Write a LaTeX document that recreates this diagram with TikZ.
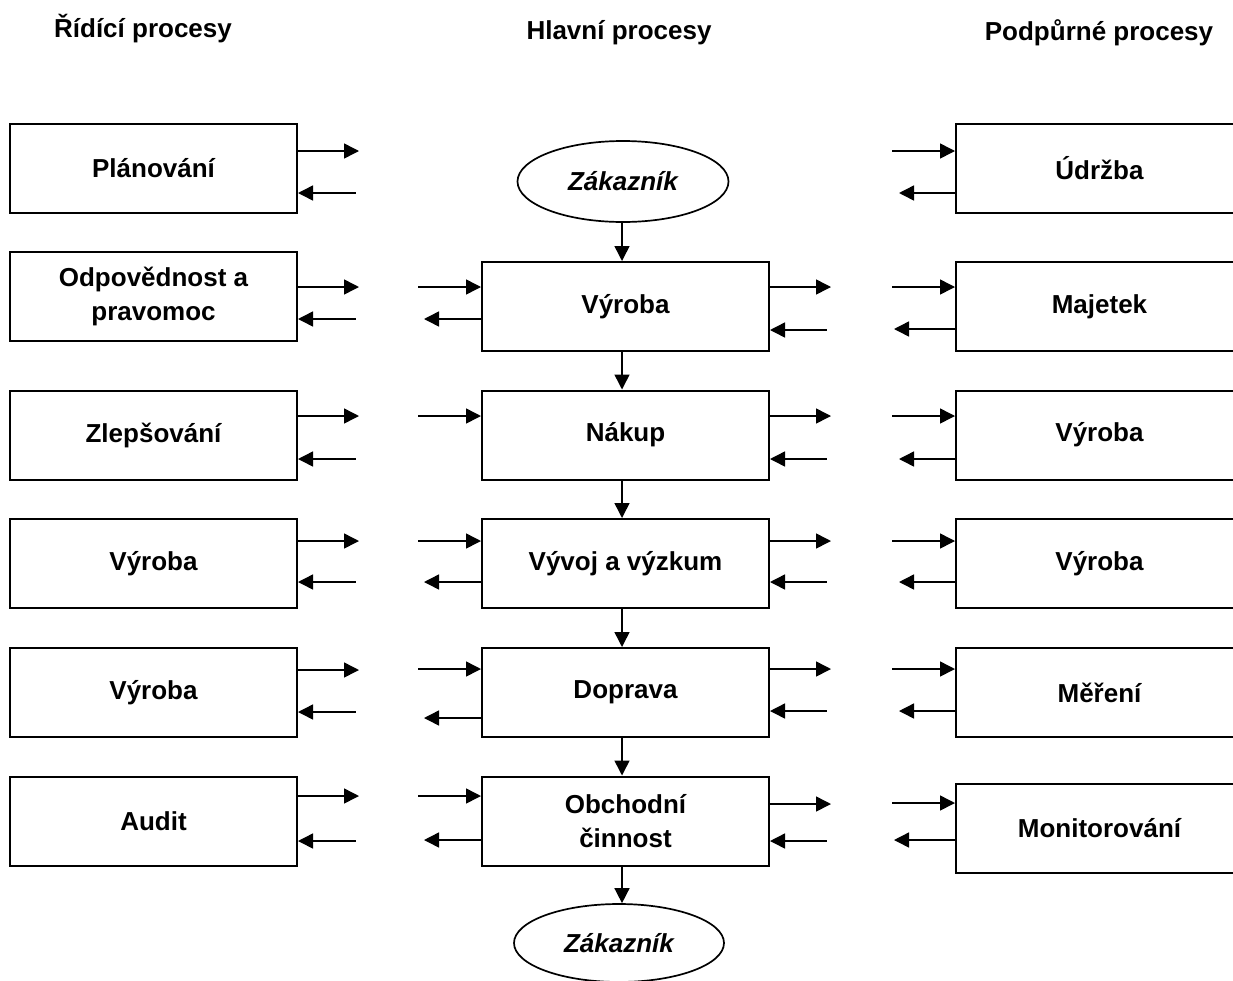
\documentclass[tikz,border=0pt]{standalone}
\usepackage{fontspec}
\setmainfont{Liberation Sans}
\usetikzlibrary{arrows.meta,shapes.geometric}

\begin{document}
\begin{tikzpicture}[x=1pt,y=-1pt,
  txt/.style={font=\fontsize{26}{34}\selectfont\bfseries},
  procbox/.style={draw, line width=2pt, rectangle, minimum width=287pt,
    minimum height=89pt, inner sep=0pt, align=center, txt},
  cust/.style={draw, line width=1.7pt, ellipse, minimum width=211pt,
    minimum height=81pt, inner sep=0pt,
    font=\fontsize{26}{34}\selectfont\bfseries\itshape},
  title/.style={txt, anchor=base},
  fwd/.style={line width=1.5pt, -{Triangle[length=15pt,width=15pt]}},
  bwd/.style={line width=1.5pt, {Triangle[length=15pt,width=15pt]}-},
]
\useasboundingbox (0,0) rectangle (1233,980);
\fill[white] (0,0) rectangle (1233,980);

% column titles
\node[title] (tL) at (143,37) {Řídící procesy};
\node[title] (tM) at (619,39) {Hlavní procesy};
\node[title] (tR) at (1099,40) {Podpůrné procesy};

% control processes
\node[procbox] (L1) at (153.5,168.5) {Plánování};
\node[procbox] (L2) at (153.5,296) {Odpovědnost a\\pravomoc};
\node[procbox] (L3) at (153.5,435) {Zlepšování};
\node[procbox] (L4) at (153.5,563.5) {Výroba};
\node[procbox] (L5) at (153.5,692.5) {Výroba};
\node[procbox] (L6) at (153.5,821.5) {Audit};

% main processes
\node[cust] (C1) at (623,181.5) {Zákazník};
\node[procbox] (M2) at (625.5,306.5) {Výroba};
\node[procbox] (M3) at (625.5,435) {Nákup};
\node[procbox] (M4) at (625.5,563.5) {Vývoj a výzkum};
\node[procbox] (M5) at (625.5,692.5) {Doprava};
\node[procbox] (M6) at (625.5,821) {Obchodní\\činnost};
\node[cust, minimum width=210pt, minimum height=78pt] (C2) at (619,943) {Zákazník};

% support processes
\node[procbox] (R1) at (1099.5,168.5) {Údržba};
\node[procbox] (R2) at (1099.5,306.5) {Majetek};
\node[procbox] (R3) at (1099.5,435) {Výroba};
\node[procbox] (R4) at (1099.5,563.5) {Výroba};
\node[procbox] (R5) at (1099.5,692.5) {Měření};
\node[procbox] (R6) at (1099.5,828) {Monitorování};

% main flow
\draw[fwd] (C1.south -| 622,0) -- (M2.north -| 622,0);
\draw[fwd] (M2.south -| 622,0) -- (M3.north -| 622,0);
\draw[fwd] (M3.south -| 622,0) -- (M4.north -| 622,0);
\draw[fwd] (M4.south -| 622,0) -- (M5.north -| 622,0);
\draw[fwd] (M5.south -| 622,0) -- (M6.north -| 622,0);
\draw[fwd] (M6.south -| 622,0) -- (C2.north -| 622,0);

% control process links
\draw[fwd] (L1.east |- 0,151) -- ++(61,0);
\draw[bwd] (L1.east |- 0,193) -- ++(58,0);
\draw[fwd] (L2.east |- 0,287) -- ++(61,0);
\draw[bwd] (L2.east |- 0,319) -- ++(58,0);
\draw[fwd] (L3.east |- 0,416) -- ++(61,0);
\draw[bwd] (L3.east |- 0,459) -- ++(58,0);
\draw[fwd] (L4.east |- 0,541) -- ++(61,0);
\draw[bwd] (L4.east |- 0,582) -- ++(58,0);
\draw[fwd] (L5.east |- 0,670) -- ++(61,0);
\draw[bwd] (L5.east |- 0,712) -- ++(58,0);
\draw[fwd] (L6.east |- 0,796) -- ++(61,0);
\draw[bwd] (L6.east |- 0,841) -- ++(58,0);

% main process links, left side
\draw[bwd] (M2.west |- 0,287) -- ++(-63,0);
\draw[fwd] (M2.west |- 0,319) -- ++(-57,0);
\draw[bwd] (M3.west |- 0,416) -- ++(-63,0);
\draw[bwd] (M4.west |- 0,541) -- ++(-63,0);
\draw[fwd] (M4.west |- 0,582) -- ++(-57,0);
\draw[bwd] (M5.west |- 0,669) -- ++(-63,0);
\draw[fwd] (M5.west |- 0,718) -- ++(-57,0);
\draw[bwd] (M6.west |- 0,796) -- ++(-63,0);
\draw[fwd] (M6.west |- 0,840) -- ++(-57,0);

% main process links, right side
\draw[fwd] (M2.east |- 0,287) -- ++(61,0);
\draw[bwd] (M2.east |- 0,330) -- ++(57,0);
\draw[fwd] (M3.east |- 0,416) -- ++(61,0);
\draw[bwd] (M3.east |- 0,459) -- ++(57,0);
\draw[fwd] (M4.east |- 0,541) -- ++(61,0);
\draw[bwd] (M4.east |- 0,582) -- ++(57,0);
\draw[fwd] (M5.east |- 0,669) -- ++(61,0);
\draw[bwd] (M5.east |- 0,711) -- ++(57,0);
\draw[fwd] (M6.east |- 0,804) -- ++(61,0);
\draw[bwd] (M6.east |- 0,841) -- ++(57,0);

% support process links
\draw[bwd] (R1.west |- 0,151) -- ++(-63,0);
\draw[fwd] (R1.west |- 0,193) -- ++(-56,0);
\draw[bwd] (R2.west |- 0,287) -- ++(-63,0);
\draw[fwd] (R2.west |- 0,329) -- ++(-61,0);
\draw[bwd] (R3.west |- 0,416) -- ++(-63,0);
\draw[fwd] (R3.west |- 0,459) -- ++(-56,0);
\draw[bwd] (R4.west |- 0,541) -- ++(-63,0);
\draw[fwd] (R4.west |- 0,582) -- ++(-56,0);
\draw[bwd] (R5.west |- 0,669) -- ++(-63,0);
\draw[fwd] (R5.west |- 0,711) -- ++(-56,0);
\draw[bwd] (R6.west |- 0,803) -- ++(-63,0);
\draw[fwd] (R6.west |- 0,840) -- ++(-61,0);
\end{tikzpicture}
\end{document}
